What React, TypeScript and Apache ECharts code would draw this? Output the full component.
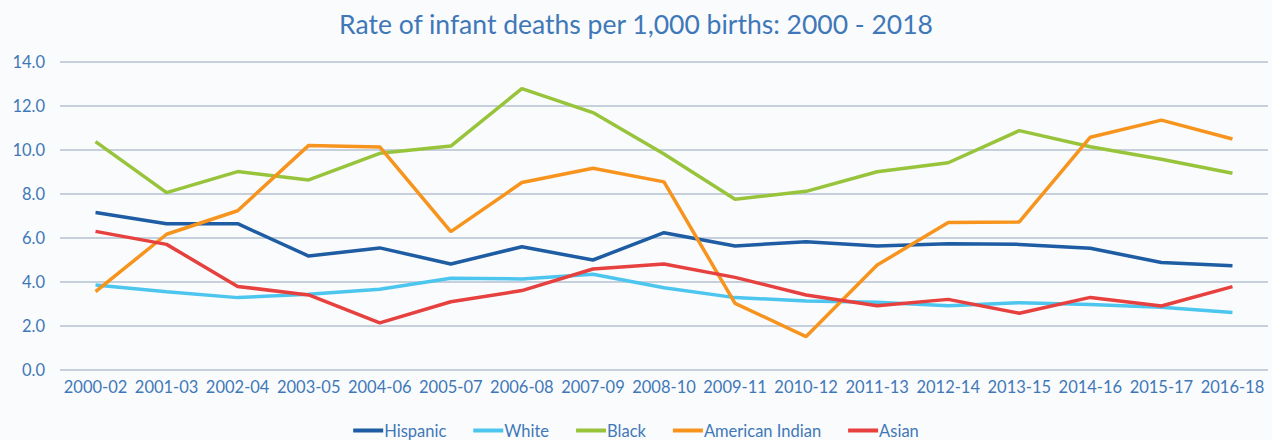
import React, { useEffect, useRef } from "react";
import * as echarts from "echarts";

const categories = ["2000-02","2001-03","2002-04","2003-05","2004-06","2005-07","2006-08","2007-09","2008-10","2009-11","2010-12","2011-13","2012-14","2013-15","2014-16","2015-17","2016-18"];
const hispanic = [7.16,6.65,6.65,5.18,5.55,4.82,5.6,5.0,6.24,5.64,5.83,5.64,5.74,5.71,5.53,4.89,4.74];
const white = [3.86,3.56,3.29,3.44,3.67,4.17,4.14,4.35,3.74,3.29,3.14,3.08,2.92,3.06,2.98,2.85,2.61];
const black = [10.38,8.06,9.02,8.64,9.85,10.18,12.79,11.7,9.82,7.76,8.12,9.01,9.42,10.88,10.15,9.58,8.94];
const americanIndian = [3.56,6.17,7.24,10.21,10.14,6.29,8.52,9.17,8.55,3.03,1.52,4.77,6.7,6.73,10.58,11.36,10.5];
const asian = [6.3,5.71,3.8,3.41,2.14,3.1,3.61,4.59,4.82,4.21,3.41,2.92,3.21,2.58,3.3,2.91,3.79];

const seriesNames = ["Hispanic","White","Black","American Indian","Asian"];
const seriesData = [hispanic, white, black, americanIndian, asian];
const colors = ["#1E5CA3","#4CC6EE","#98C43C","#F7941E","#E6403F"];

export default function App() {
  const ref = useRef<HTMLDivElement>(null);
  useEffect(() => {
    document.body.style.margin = "0";
    const chart = echarts.init(ref.current!, null, { renderer: "svg" });
    const font = "Lato, 'Open Sans', sans-serif";
    chart.setOption({
      animation: false,
      backgroundColor: "#FAFBFC",
      title: {
        text: "Rate of infant deaths per 1,000 births: 2000 - 2018",
        left: "center",
        top: 5,
        textStyle: { color: "#3F78B8", fontSize: 26.5, fontWeight: "normal", fontFamily: font },
      },
      legend: {
        bottom: -4,
        left: "center",
        icon: "rect",
        itemWidth: 30,
        itemHeight: 4,
        itemGap: 27,
        textStyle: { color: "#3F78B8", fontSize: 16.5, fontFamily: font, padding: [0, 0, 0, -4] },
        data: seriesNames,
      },
      grid: { left: 60, right: 4, top: 62, bottom: 70, containLabel: false },
      xAxis: {
        type: "category",
        data: categories,
        boundaryGap: true,
        axisTick: { show: false },
        axisLine: { show: false },
        axisLabel: { color: "#3F78B8", fontSize: 16.5, fontFamily: font, margin: 8, interval: 0 },
      },
      yAxis: {
        type: "value",
        min: 0,
        max: 14,
        interval: 2,
        axisLine: { show: false },
        axisTick: { show: false },
        axisLabel: { color: "#3F78B8", fontSize: 16.5, fontFamily: font, margin: 15, formatter: (v: number) => v.toFixed(1) },
        splitLine: { lineStyle: { color: "#C5D0DC", width: 2 } },
      },
      series: seriesNames.map((name, i) => ({
        name,
        type: "line",
        data: seriesData[i],
        showSymbol: false,
        symbol: "none",
        lineStyle: { width: 3.5, color: colors[i] },
        itemStyle: { color: colors[i] },
      })),
    });
    return () => chart.dispose();
  }, []);
  return <div ref={ref} style={{ width: 1272, height: 440 }} />;
}
